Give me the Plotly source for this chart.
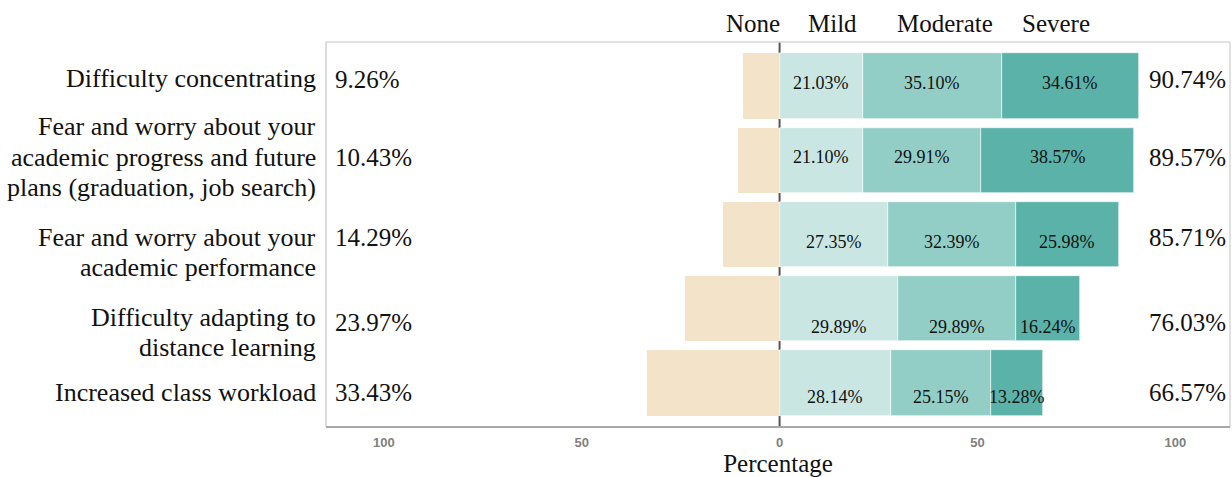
import plotly.graph_objects as go

categories = [
    "Difficulty concentrating",
    "Fear and worry about your<br>academic progress and future<br>plans (graduation, job search)",
    "Fear and worry about your<br>academic performance",
    "Difficulty adapting to<br>distance learning",
    "Increased class workload",
]
none_vals = [9.26, 10.43, 14.29, 23.97, 33.43]
mild_vals = [21.03, 21.10, 27.35, 29.89, 28.14]
moderate_vals = [35.10, 29.91, 32.39, 29.89, 25.15]
severe_vals = [34.61, 38.57, 25.98, 16.24, 13.28]
any_vals = [90.74, 89.57, 85.71, 76.03, 66.57]
level_names = ["None", "Mild", "Moderate", "Severe"]
tick_vals = [-100, -50, 0, 50, 100]
tick_text = ["100", "50", "0", "50", "100"]

colors = {"None": "#F2E3C9", "Mild": "#C9E6E3", "Moderate": "#93CEC6", "Severe": "#5AB2A9"}
serif = "Liberation Serif, Times New Roman, serif"
ypos = list(range(len(categories)))
# vertical offsets (px, positive = downward) of texts relative to bar centres
cat_shift = [-8, -3, 18, 24, 10]
outer_shift = [-7, -3, 3, 14, 10]
inner_shift = [-3, -3, 7, 18, 14]
line_gap = 30.5

fig = go.Figure()
fig.add_trace(go.Bar(y=ypos, x=[-v for v in none_vals], orientation="h", name="None",
                     marker=dict(color=colors["None"], line=dict(width=0)), width=0.89,
                     hoverinfo="skip"))
for name, vals in [("Mild", mild_vals), ("Moderate", moderate_vals), ("Severe", severe_vals)]:
    fig.add_trace(go.Bar(y=ypos, x=vals, orientation="h", name=name,
                         marker=dict(color=colors[name], line=dict(width=0.6, color="white")),
                         width=0.89, hoverinfo="skip"))

annotations = []
for i in ypos:
    # category labels, one annotation per line for tighter line spacing
    lines = categories[i].split("<br>")
    n = len(lines)
    for k, ln in enumerate(lines):
        off = cat_shift[i] + (k - (n - 1) / 2) * line_gap
        annotations.append(dict(x=0, y=i, xref="paper", yref="y", text=ln, showarrow=False,
                                xanchor="right", xshift=-8, yshift=-off,
                                font=dict(family=serif, size=26, color="#111")))
    annotations.append(dict(x=-112.8, y=i, xref="x", yref="y", text=f"{none_vals[i]:.2f}%",
                            showarrow=False, xanchor="left", yshift=-outer_shift[i],
                            font=dict(family=serif, size=25, color="#111")))
    annotations.append(dict(x=113.3, y=i, xref="x", yref="y", text=f"{any_vals[i]:.2f}%",
                            showarrow=False, xanchor="right", yshift=-outer_shift[i],
                            font=dict(family=serif, size=25, color="#111")))
    base = 0
    for vals in (mild_vals, moderate_vals, severe_vals):
        v = vals[i]
        annotations.append(dict(x=base + v / 2, y=i, xref="x", yref="y", text=f"{v:.2f}%",
                                showarrow=False, yshift=-inner_shift[i],
                                font=dict(family=serif, size=18, color="#111")))
        base += v

header_x = [-6.8, 13.3, 41.8, 69.8]
for name, hx in zip(level_names, header_x):
    annotations.append(dict(x=hx, y=1.0, xref="x", yref="paper", yanchor="bottom", yshift=3,
                            text=name, showarrow=False, font=dict(family=serif, size=25, color="#111")))

fig.update_layout(
    width=1232, height=477,
    margin=dict(l=326, r=2, t=42, b=50),
    barmode="relative",
    bargap=0,
    plot_bgcolor="white", paper_bgcolor="white",
    showlegend=False,
    annotations=annotations,
    xaxis=dict(range=[-114.6, 113.8], tickvals=tick_vals, ticktext=tick_text,
               showgrid=False, zeroline=False, showline=False, ticks="",
               tickfont=dict(family="Liberation Sans, Arial, sans-serif", size=13, color="#808080",
                             weight="bold"),
               ticklabelstandoff=6,
               title=dict(text="Percentage", font=dict(family=serif, size=25, color="#111"), standoff=6)),
    yaxis=dict(range=[4.6, -0.6], tickvals=ypos, showticklabels=False, showgrid=False,
               zeroline=False, showline=False, ticks=""),
    shapes=[
        dict(type="line", xref="x", yref="paper", x0=0, x1=0, y0=0, y1=1,
             line=dict(color="#555555", width=2), layer="below"),
        dict(type="line", xref="paper", yref="paper", x0=0, x1=1, y0=1, y1=1,
             line=dict(color="#d6d6d6", width=1.5)),
        dict(type="line", xref="paper", yref="paper", x0=0, x1=0, y0=0, y1=1,
             line=dict(color="#d0d0d0", width=1.5)),
        dict(type="line", xref="paper", yref="paper", x0=1, x1=1, y0=0, y1=1,
             line=dict(color="#d6d6d6", width=1.5)),
        dict(type="line", xref="paper", yref="paper", x0=0, x1=1, y0=0, y1=0,
             line=dict(color="#a8a8a8", width=2)),
    ],
)

fig.write_html("out.html", config={"displayModeBar": False},
               post_script="document.body.style.margin='0';document.body.style.overflow='hidden';")
